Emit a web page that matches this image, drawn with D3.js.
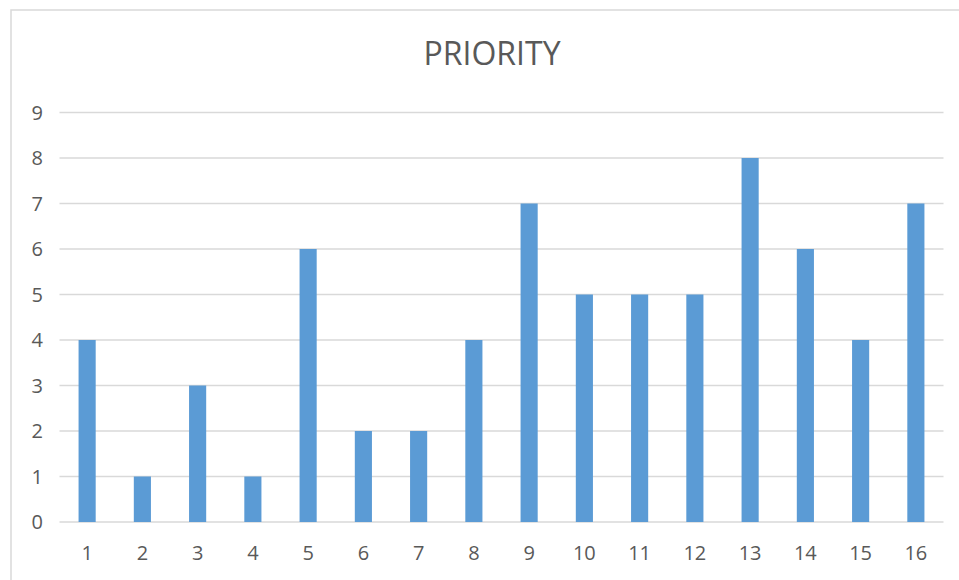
<!DOCTYPE html>
<html>
<head>
<meta charset="utf-8">
<script src="https://cdn.jsdelivr.net/npm/d3@7"></script>
<style>
  body { margin: 0; background: #fff; }
  svg text { font-family: "Open Sans", "Liberation Sans", sans-serif; fill: #595959; }
</style>
</head>
<body>
<div id="chart"></div>
<script>
var w = 959;
var h = 580;

var categories = ["1", "2", "3", "4", "5", "6", "7", "8", "9", "10", "11", "12", "13", "14", "15", "16"];
var values = [4, 1, 3, 1, 6, 2, 2, 4, 7, 5, 5, 5, 8, 6, 4, 7];
var yTicks = [0, 1, 2, 3, 4, 5, 6, 7, 8, 9];
var title = "PRIORITY";

var plot = { left: 59.5, right: 943.5, top: 112.5, bottom: 522 };

var svg = d3.select("#chart")
            .append("svg")
            .attr("width", w)
            .attr("height", h);

// chart area border
svg.append("rect")
    .attr("x", 11)
    .attr("y", 10)
    .attr("width", w + 20)
    .attr("height", h + 20)
    .attr("fill", "#fff")
    .attr("stroke", "#d9d9d9")
    .attr("stroke-width", 1.5);

var xScale = d3.scaleBand()
    .domain(categories)
    .range([plot.left, plot.right])
    .paddingInner(0.69)
    .paddingOuter(0.345);

var yScale = d3.scaleLinear()
    .domain([0, 9])
    .range([plot.bottom, plot.top]);

// gridlines
svg.append("g")
    .selectAll("line")
    .data(yTicks)
    .enter()
    .append("line")
    .attr("x1", plot.left)
    .attr("x2", plot.right)
    .attr("y1", (d) => yScale(d))
    .attr("y2", (d) => yScale(d))
    .attr("stroke", "#d9d9d9")
    .attr("stroke-width", 1.5);

// y labels
svg.append("g")
    .selectAll("text")
    .data(yTicks)
    .enter()
    .append("text")
    .attr("x", 43)
    .attr("y", (d) => yScale(d))
    .attr("dy", "0.36em")
    .attr("text-anchor", "end")
    .style("font-size", "20px")
    .text((d) => d);

// bars
svg.append("g")
    .selectAll("rect")
    .data(values)
    .enter()
    .append("rect")
    .attr("x", (d, i) => xScale(categories[i]))
    .attr("y", (d) => yScale(d))
    .attr("width", xScale.bandwidth())
    .attr("height", (d) => yScale(0) - yScale(d))
    .attr("fill", "#5b9bd5");

// x labels
svg.append("g")
    .selectAll("text")
    .data(categories)
    .enter()
    .append("text")
    .attr("x", (d) => xScale(d) + xScale.bandwidth() / 2)
    .attr("y", 560)
    .attr("text-anchor", "middle")
    .style("font-size", "20px")
    .text((d) => d);

svg.append("text")
    .attr("x", 492)
    .attr("y", 65)
    .attr("text-anchor", "middle")
    .style("font-size", "32px")
    .text(title);
</script>
</body>
</html>
